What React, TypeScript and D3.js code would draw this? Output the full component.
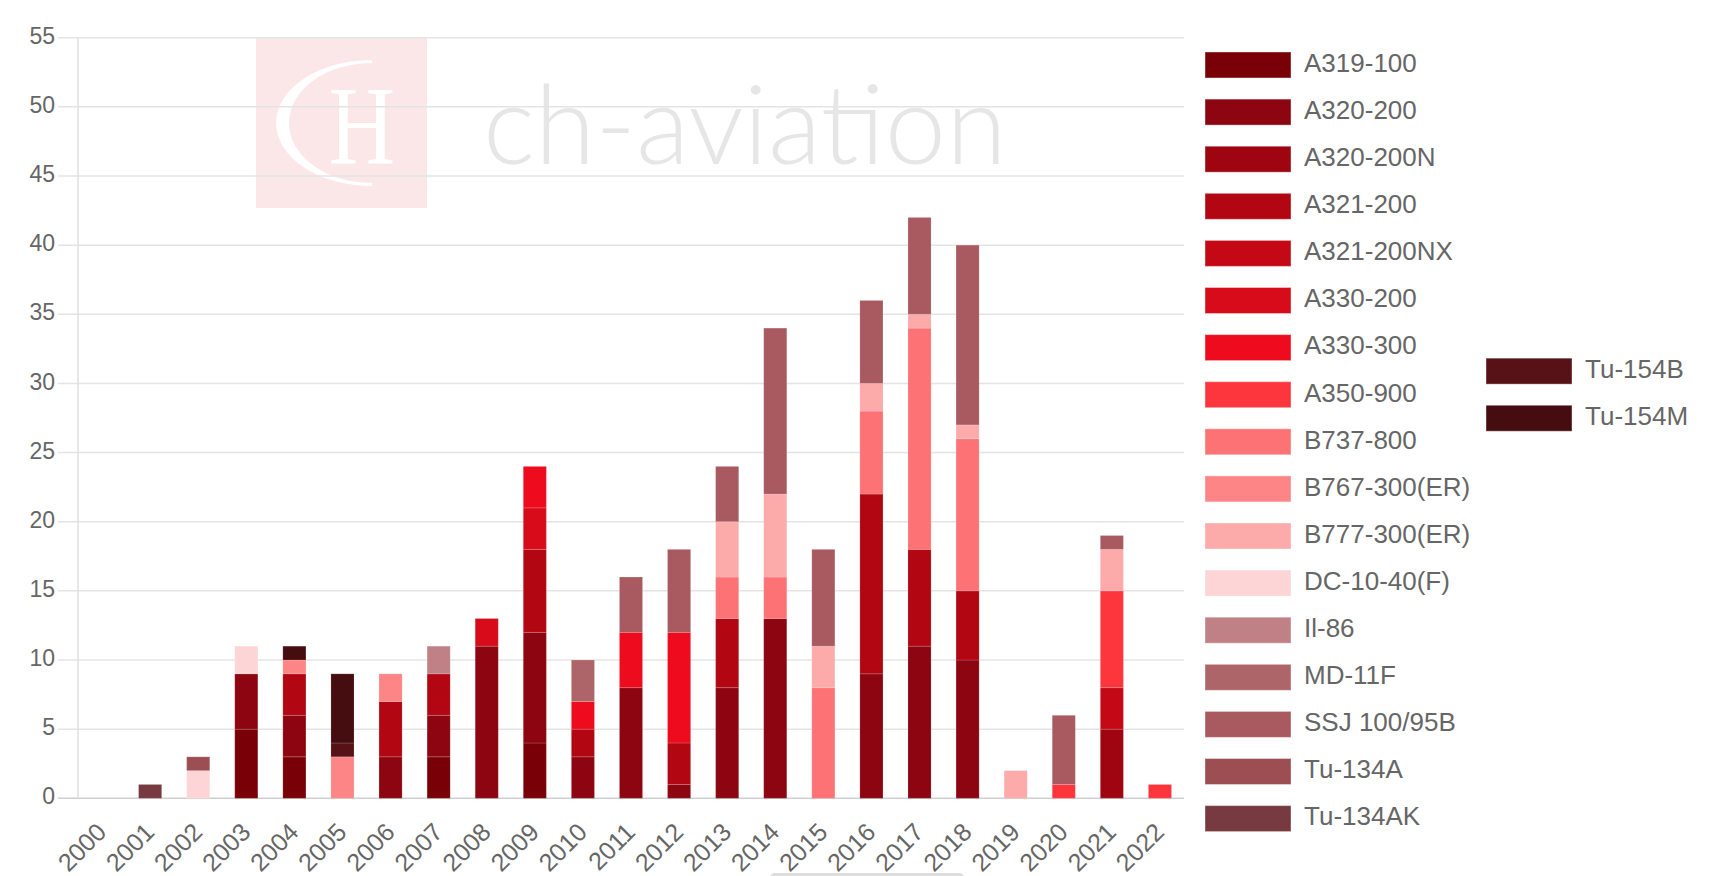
// Stacked bar chart: aircraft deliveries per year, split by aircraft type

import React from "react"
import * as d3 from "d3"

const years = [
  "2000", "2001", "2002", "2003", "2004", "2005", "2006", "2007", "2008", "2009", "2010", "2011",
  "2012", "2013", "2014", "2015", "2016", "2017", "2018", "2019", "2020", "2021", "2022",
]

// one value per year, 2000 .. 2022
const a319_100 = [0, 0, 0, 5, 3, 0, 0, 3, 0, 4, 0, 0, 0, 0, 0, 0, 0, 0, 0, 0, 0, 0, 0]
const a320_200 = [0, 0, 0, 4, 3, 0, 3, 3, 11, 8, 3, 8, 1, 8, 13, 0, 9, 11, 10, 0, 0, 0, 0]
const a320_200n = [0, 0, 0, 0, 0, 0, 0, 0, 0, 0, 0, 0, 0, 0, 0, 0, 0, 0, 0, 0, 0, 5, 0]
const a321_200 = [0, 0, 0, 0, 3, 0, 4, 3, 0, 6, 2, 0, 3, 5, 0, 0, 13, 7, 5, 0, 0, 0, 0]
const a321_200nx = [0, 0, 0, 0, 0, 0, 0, 0, 0, 0, 0, 0, 0, 0, 0, 0, 0, 0, 0, 0, 0, 3, 0]
const a330_200 = [0, 0, 0, 0, 0, 0, 0, 0, 2, 3, 0, 0, 0, 0, 0, 0, 0, 0, 0, 0, 0, 0, 0]
const a330_300 = [0, 0, 0, 0, 0, 0, 0, 0, 0, 3, 2, 4, 8, 0, 0, 0, 0, 0, 0, 0, 0, 0, 0]
const a350_900 = [0, 0, 0, 0, 0, 0, 0, 0, 0, 0, 0, 0, 0, 0, 0, 0, 0, 0, 0, 0, 1, 7, 1]
const b737_800 = [0, 0, 0, 0, 0, 0, 0, 0, 0, 0, 0, 0, 0, 3, 3, 8, 6, 16, 11, 0, 0, 0, 0]
const b767_300er = [0, 0, 0, 0, 1, 3, 2, 0, 0, 0, 0, 0, 0, 0, 0, 0, 0, 0, 0, 0, 0, 0, 0]
const b777_300er = [0, 0, 0, 0, 0, 0, 0, 0, 0, 0, 0, 0, 0, 4, 6, 3, 2, 1, 1, 2, 0, 3, 0]
const dc10_40f = [0, 0, 2, 2, 0, 0, 0, 0, 0, 0, 0, 0, 0, 0, 0, 0, 0, 0, 0, 0, 0, 0, 0]
const il86 = [0, 0, 0, 0, 0, 0, 0, 2, 0, 0, 0, 0, 0, 0, 0, 0, 0, 0, 0, 0, 0, 0, 0]
const md11f = [0, 0, 0, 0, 0, 0, 0, 0, 0, 0, 3, 0, 0, 0, 0, 0, 0, 0, 0, 0, 0, 0, 0]
const ssj100 = [0, 0, 0, 0, 0, 0, 0, 0, 0, 0, 0, 4, 6, 4, 12, 7, 6, 7, 13, 0, 5, 1, 0]
const tu134a = [0, 0, 1, 0, 0, 0, 0, 0, 0, 0, 0, 0, 0, 0, 0, 0, 0, 0, 0, 0, 0, 0, 0]
const tu134ak = [0, 1, 0, 0, 0, 0, 0, 0, 0, 0, 0, 0, 0, 0, 0, 0, 0, 0, 0, 0, 0, 0, 0]
const tu154b = [0, 0, 0, 0, 0, 1, 0, 0, 0, 0, 0, 0, 0, 0, 0, 0, 0, 0, 0, 0, 0, 0, 0]
const tu154m = [0, 0, 0, 0, 1, 5, 0, 0, 0, 0, 0, 0, 0, 0, 0, 0, 0, 0, 0, 0, 0, 0, 0]

const seriesNames = [
  "A319-100", "A320-200", "A320-200N", "A321-200", "A321-200NX", "A330-200", "A330-300",
  "A350-900", "B737-800", "B767-300(ER)", "B777-300(ER)", "DC-10-40(F)", "Il-86", "MD-11F",
  "SSJ 100/95B", "Tu-134A", "Tu-134AK", "Tu-154B", "Tu-154M",
]
const seriesValues = [
  a319_100, a320_200, a320_200n, a321_200, a321_200nx, a330_200, a330_300, a350_900,
  b737_800, b767_300er, b777_300er, dc10_40f, il86, md11f, ssj100, tu134a, tu134ak, tu154b, tu154m,
]
const seriesColors = [
  "#7a0008", "#8c0510", "#9e0510", "#b20612", "#c40815", "#d80b1a", "#ef0b1e", "#fd363e",
  "#fd7275", "#fd8585", "#fdaaab", "#fdd5d7", "#bf8185", "#ae656a", "#a85a60", "#9c4e53",
  "#763a40", "#561217", "#450d10",
]
const yTicks = [0, 5, 10, 15, 20, 25, 30, 35, 40, 45, 50, 55]

const W = 1714
const H = 876
const left = 78
const right = 1184
const top = 37.7
const bottom = 798.3
const font = "'Liberation Sans', Arial, Helvetica, sans-serif"

export default function App() {
  const x = d3.scaleBand().domain(years).range([left, right]).paddingInner(0.52).paddingOuter(0.26)
  const y = d3.scaleLinear().domain([0, 55]).range([bottom, top])

  // rows for d3.stack, first series sits at the bottom
  const rows = years.map((yr, i) => {
    const r: any = { year: yr }
    seriesNames.forEach((n, k) => (r[n] = seriesValues[k][i]))
    return r
  })
  const stacked = d3.stack().keys(seriesNames)(rows)
  const color = d3.scaleOrdinal<string, string>().domain(seriesNames).range(seriesColors)

  const rowStep = 47.1
  const legendItems = seriesNames.map((n, i) => {
    const second = i >= 17
    return {
      name: n,
      lx: second ? 1486 : 1205,
      cy: second ? 65 + (i - 17 + 6.5) * rowStep : 65 + i * rowStep,
    }
  })

  return (
    <svg width={W} height={H} style={{ position: "absolute", left: 0, top: 0, display: "block" }}>
      <rect width={W} height={H} fill="#fff" />

      {/* watermark */}
      <rect x={256} y={38} width={171} height={170} fill="#fbe6e8" />
      <path d="M372,60 A96,63 0 0 0 372,186 L372,183 A83,60 0 0 1 372,63 Z" fill="#fff" />
      <text
        x={0}
        y={0}
        transform="translate(362,163) scale(0.82,1)"
        textAnchor="middle"
        fontFamily="'Liberation Serif', 'DejaVu Serif', serif"
        fontSize={112}
        fill="#fff"
      >
        H
      </text>
      <text x={483} y={164} fontFamily="Lato, 'Open Sans', sans-serif" fontWeight={300} fontSize={110} fill="#e6e6e6">
        ch-aviation
      </text>

      {/* grid */}
      {yTicks.map(t => (
        <line key={t} x1={58} x2={right} y1={y(t)} y2={y(t)} stroke={t === 0 ? "#cfcfcf" : "#e4e4e4"} strokeWidth={1.5} />
      ))}
      <line x1={left} x2={left} y1={top} y2={bottom} stroke="#e0e0e0" strokeWidth={1.5} />

      {yTicks.map(t => (
        <text key={t} x={55} y={y(t)} textAnchor="end" dominantBaseline="middle" fontFamily={font} fontSize={23} fill="#666">
          {t}
        </text>
      ))}

      {/* bars */}
      {stacked.map(s => (
        <g key={s.key} fill={color(s.key)}>
          {s.map((d, i) =>
            d[1] - d[0] > 0 ? (
              <rect
                key={i}
                x={x(years[i])}
                y={y(d[1])}
                width={x.bandwidth()}
                height={y(d[0]) - y(d[1])}
                stroke="rgba(255,255,255,0.15)"
                strokeWidth={1}
              />
            ) : null
          )}
        </g>
      ))}

      {/* x labels */}
      {years.map(yr => {
        const cx = (x(yr) as number) + x.bandwidth() / 2 + 1
        return (
          <text
            key={yr}
            transform={`translate(${cx},829) rotate(-45)`}
            textAnchor="end"
            dominantBaseline="middle"
            fontFamily={font}
            fontSize={25}
            fill="#666"
          >
            {yr}
          </text>
        )
      })}

      {/* legend */}
      {legendItems.map(l => (
        <g key={l.name}>
          <rect x={l.lx} y={l.cy - 13} width={86} height={26} fill={color(l.name)} stroke="rgba(255,255,255,0.4)" />
          <text x={l.lx + 99} y={l.cy} dominantBaseline="middle" fontFamily={font} fontSize={26} fill="#666">
            {l.name}
          </text>
        </g>
      ))}

      {/* scroll handle at the bottom */}
      <rect x={770} y={873} width={194} height={10} rx={5} fill="#dddddd" />
    </svg>
  )
}
